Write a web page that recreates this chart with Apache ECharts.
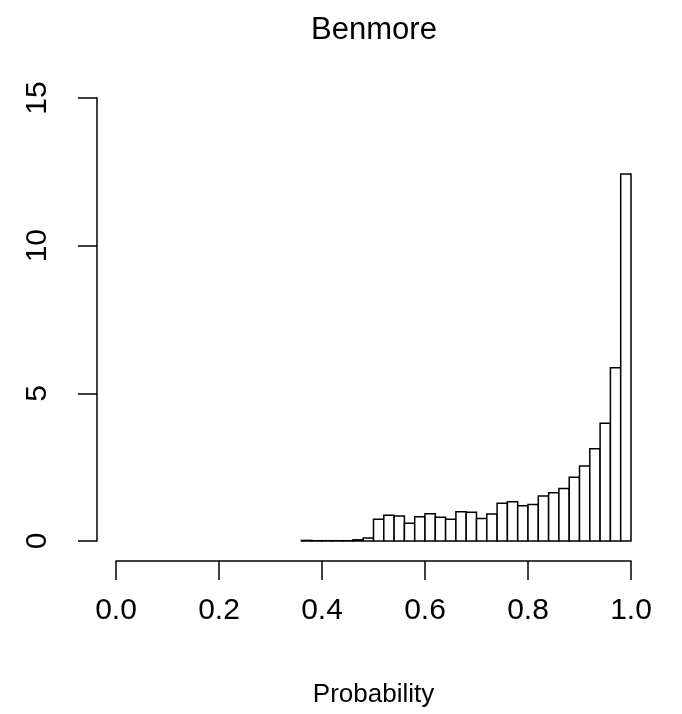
<!DOCTYPE html>
<html>
<head>
<meta charset="utf-8">
<script src="https://cdn.jsdelivr.net/npm/echarts@6/dist/echarts.min.js"></script>
<style>html,body{margin:0;padding:0;background:#fff}#c{width:682px;height:714px}</style>
</head>
<body>
<div id="c"></div>
<script>
var binWidth = 0.02;
var binStarts = [0.36,0.38,0.40,0.42,0.44,0.46,0.48,0.50,0.52,0.54,0.56,0.58,0.60,0.62,0.64,0.66,
                 0.68,0.70,0.72,0.74,0.76,0.78,0.80,0.82,0.84,0.86,0.88,0.90,0.92,0.94,0.96,0.98];
var densities = [0.02,0.01,0.01,0.01,0.01,0.04,0.10,0.74,0.87,0.85,0.60,0.82,0.92,0.80,0.74,0.99,
                 0.97,0.76,0.91,1.28,1.33,1.19,1.24,1.52,1.63,1.78,2.16,2.54,3.12,3.99,5.87,12.43];
var xTicks = [0, 0.2, 0.4, 0.6, 0.8, 1.0];
var yTicks = [0, 5, 10, 15];

var font = "'Liberation Sans', Arial, Helvetica, sans-serif";
var data = binStarts.map(function (s, i) { return [s, s + binWidth, densities[i]]; });

var chart = echarts.init(document.getElementById('c'), null, {renderer: 'canvas'});
chart.setOption({
  animation: false,
  backgroundColor: '#fff',
  title: {
    text: 'Benmore',
    left: 369, top: 10, textAlign: 'center',
    textStyle: {fontFamily: font, fontSize: 31, fontWeight: 'normal', color: '#000'}
  },
  grid: {left: 116, right: 51, top: 98, bottom: 173},
  xAxis: {
    type: 'value', min: 0, max: 1, interval: 0.2,
    offset: 20,
    name: 'Probability', nameLocation: 'middle', nameGap: 121,
    nameTextStyle: {fontFamily: font, fontSize: 26, color: '#000'},
    axisLine: {show: true, onZero: false, lineStyle: {color: '#000', width: 1.5}},
    axisTick: {show: true, length: 19, lineStyle: {color: '#000', width: 1.5}},
    axisLabel: {
      fontFamily: font, fontSize: 30, color: '#000', margin: 35,
      formatter: function (v) { return v.toFixed(1); }
    },
    splitLine: {show: false}
  },
  yAxis: {
    type: 'value', min: 0, max: 15, interval: 5,
    offset: 19,
    axisLine: {show: true, onZero: false, lineStyle: {color: '#000', width: 1.5}},
    axisTick: {show: true, length: 19, lineStyle: {color: '#000', width: 1.5}},
    axisLabel: {
      fontFamily: font, fontSize: 30, color: '#000', margin: 59,
      rotate: 90, align: 'center', verticalAlign: 'middle'
    },
    splitLine: {show: false}
  },
  series: [{
    type: 'custom',
    data: data,
    encode: {x: [0, 1], y: 2},
    renderItem: function (params, api) {
      var p0 = api.coord([api.value(0), 0]);
      var p1 = api.coord([api.value(1), api.value(2)]);
      return {
        type: 'rect',
        shape: {x: p0[0], y: p1[1], width: p1[0] - p0[0], height: p0[1] - p1[1]},
        style: {fill: '#fff', stroke: '#000', lineWidth: 1.5}
      };
    }
  }]
});
</script>
</body>
</html>
